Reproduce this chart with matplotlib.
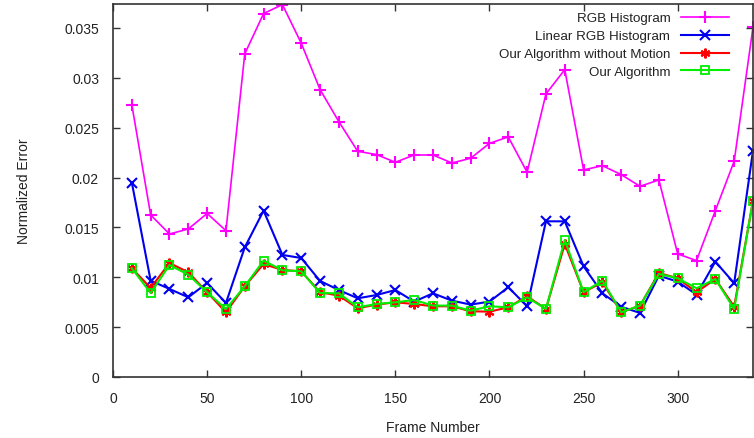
import numpy as np
import matplotlib.pyplot as plt

plt.rcParams['font.family'] = ['Liberation Sans', 'DejaVu Sans']

frames = np.arange(10, 341, 10)

rgb_hist = [0.0273, 0.01625, 0.01434, 0.01484, 0.0164, 0.01467, 0.0324, 0.03644,
            0.03734, 0.03347, 0.02882, 0.0256, 0.02263, 0.0223, 0.02153, 0.02226,
            0.02226, 0.02146, 0.02193, 0.02343, 0.02407, 0.02053, 0.02838, 0.03082,
            0.02076, 0.02119, 0.02029, 0.01912, 0.01976, 0.01234, 0.01167, 0.01668,
            0.02163, 0.03507]
linear_rgb = [0.0195, 0.00966, 0.00883, 0.00799, 0.00943, 0.00742, 0.0130, 0.01668,
              0.01224, 0.01193, 0.00963, 0.00872, 0.00789, 0.00822, 0.00872, 0.00756,
              0.00839, 0.00766, 0.00726, 0.00756, 0.0090, 0.00709, 0.01561, 0.01561,
              0.0111, 0.00839, 0.00705, 0.00642, 0.01016, 0.00956, 0.00826, 0.01157,
              0.0094, 0.0227]
no_motion = [0.0109, 0.00893, 0.01143, 0.0105, 0.0085, 0.00649, 0.0091, 0.01133,
             0.01073, 0.0106, 0.0085, 0.00816, 0.00689, 0.00726, 0.00749, 0.00732,
             0.00709, 0.00709, 0.00659, 0.00655, 0.00699, 0.00809, 0.00682, 0.01334,
             0.0085, 0.0095, 0.00649, 0.00716, 0.01043, 0.0099, 0.0085, 0.00983,
             0.00705, 0.01768]
our_algo = [0.0109, 0.00842, 0.01123, 0.01026, 0.0085, 0.00682, 0.0091, 0.01167,
            0.0107, 0.0106, 0.00842, 0.00839, 0.00699, 0.00732, 0.00749, 0.00772,
            0.00716, 0.00716, 0.00665, 0.00709, 0.00699, 0.00799, 0.00682, 0.01374,
            0.0085, 0.00966, 0.00649, 0.00716, 0.01033, 0.0099, 0.0089, 0.00983,
            0.00682, 0.01768]

labels = ['RGB Histogram', 'Linear RGB Histogram',
          'Our Algorithm without Motion', 'Our Algorithm']

fig = plt.figure(figsize=(7.54, 4.39), dpi=100)
ax = fig.add_axes([113/754, 1 - 378/439, 640/754, 373/439])

ax.plot(frames, rgb_hist, color='#ff00ff', marker='+', ms=9, mew=1.5, lw=1.2, label=labels[0])
ax.plot(frames, linear_rgb, color='#0000ee', marker='x', ms=7, mew=1.5, lw=1.5, label=labels[1])
ax.plot(frames, no_motion, color='#ff0000', marker=(6, 2, 0), ms=7, mew=1.5, lw=1.5, label=labels[2])
ax.plot(frames, our_algo, color='#00ee00', marker='s', ms=6, mew=1.3, mfc='none', lw=1.5, label=labels[3])

ax.set_xlim(0, 340)
ax.set_ylim(0, 0.0374)
ax.set_xticks(range(0, 301, 50))
ax.set_yticks([0, 0.005, 0.01, 0.015, 0.02, 0.025, 0.03, 0.035])
ax.set_yticklabels(['0', '0.005', '0.01', '0.015', '0.02', '0.025', '0.03', '0.035'])

ax.tick_params(direction='in', top=True, right=True, length=5, width=1,
               labelsize=10, labelcolor='#222222', color='#333333', pad=10)
for sp in ax.spines.values():
    sp.set_color('#333333')
    sp.set_linewidth(1.2)

ax.set_xlabel('Frame Number', fontsize=10, color='#222222', labelpad=11)
ax.set_ylabel('Normalized Error', fontsize=10, color='#222222', labelpad=24)

leg = ax.legend(loc='upper right', bbox_to_anchor=(0.975, 1.0), frameon=False,
                markerfirst=False, fontsize=9.6, handlelength=3.6,
                labelspacing=0.42, borderaxespad=0.2, handletextpad=0.8)
for t in leg.get_texts():
    t.set_color('#222222')

fig.savefig('out.png', dpi=100)
